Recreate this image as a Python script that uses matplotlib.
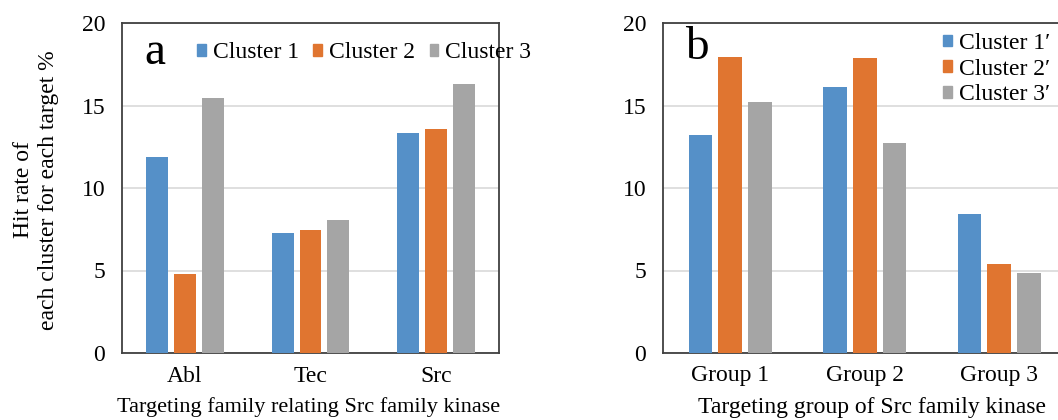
import numpy as np
import matplotlib
matplotlib.use("Agg")
import matplotlib.pyplot as plt
from matplotlib.patches import Patch

plt.rcParams['font.family'] = ['Liberation Serif', 'DejaVu Serif']

# panel a
families = ["Abl", "Tec", "Src"]
cluster_a = ["Cluster 1", "Cluster 2", "Cluster 3"]
a_c1 = [11.9, 7.25, 13.35]
a_c2 = [4.77, 7.45, 13.6]
a_c3 = [15.45, 8.06, 16.3]

# panel b
groups = ["Group 1", "Group 2", "Group 3"]
cluster_b = ["Cluster 1\u2032", "Cluster 2\u2032", "Cluster 3\u2032"]
b_c1 = [13.2, 16.1, 8.42]
b_c2 = [17.92, 17.9, 5.4]
b_c3 = [15.2, 12.7, 4.83]

colors = ["#5590C8", "#E07530", "#A5A5A5"]
frame = "#404040"
W, H = 1058, 420

fig = plt.figure(figsize=(W / 100, H / 100), dpi=100)
ax_a = fig.add_axes([122 / W, 67 / H, 377 / W, 330 / H])
ax_b = fig.add_axes([663 / W, 67 / H, 403.5 / W, 330 / H])


def panel(ax, cats, series):
    x = np.arange(len(cats))
    for k, vals in enumerate(series):
        ax.bar(x + (k - 1) * 0.222, vals, width=0.175, color=colors[k], zorder=3)
    ax.set_xlim(-0.5, 2.5)
    ax.set_ylim(0, 20)
    ax.set_yticks([0, 5, 10, 15, 20])
    ax.set_xticks(x)
    ax.set_xticklabels(cats)
    ax.tick_params(axis="both", length=0, labelsize=17)
    ax.tick_params(axis="y", pad=12)
    ax.tick_params(axis="x", pad=9)
    ax.grid(axis="y", color="#D9D9D9", linewidth=1.2, zorder=0)
    for s in ax.spines.values():
        s.set_color(frame)
        s.set_linewidth(1.3)


panel(ax_a, families, [a_c1, a_c2, a_c3])
panel(ax_b, groups, [b_c1, b_c2, b_c3])

fig.text(144 / W, 1 - 53 / H, "a", fontsize=34, va="center", ha="left")
fig.text(685 / W, 1 - 48 / H, "b", fontsize=34, va="center", ha="left")

handles_a = [Patch(color=c, label=l) for c, l in zip(colors, cluster_a)]
fig.legend(handles=handles_a, loc="center left", bbox_to_anchor=(197 / W, 1 - 53 / H),
           ncol=3, frameon=False, fontsize=17, handlelength=0.36, handleheight=0.36,
           handletextpad=0.3, columnspacing=0.62, borderaxespad=0, borderpad=0)

handles_b = [Patch(color=c, label=l) for c, l in zip(colors, cluster_b)]
fig.legend(handles=handles_b, loc="upper left", bbox_to_anchor=(943 / W, 1 - 33 / H),
           ncol=1, frameon=False, fontsize=17, handlelength=0.38, handleheight=0.38,
           handletextpad=0.3, labelspacing=0.2, borderaxespad=0, borderpad=0)

fig.text(36 / W, 1 - 190 / H, "Hit rate of\neach cluster for each target %",
         rotation=90, fontsize=17, ha="center", va="center", linespacing=1.2)
fig.text(309 / W, 1 - 397 / H, "Targeting family relating Src family kinase",
         fontsize=16, ha="center", va="top")
fig.text(872 / W, 1 - 397 / H, "Targeting group of Src family kinase",
         fontsize=17, ha="center", va="top")

fig.savefig("out.png", dpi=100)
